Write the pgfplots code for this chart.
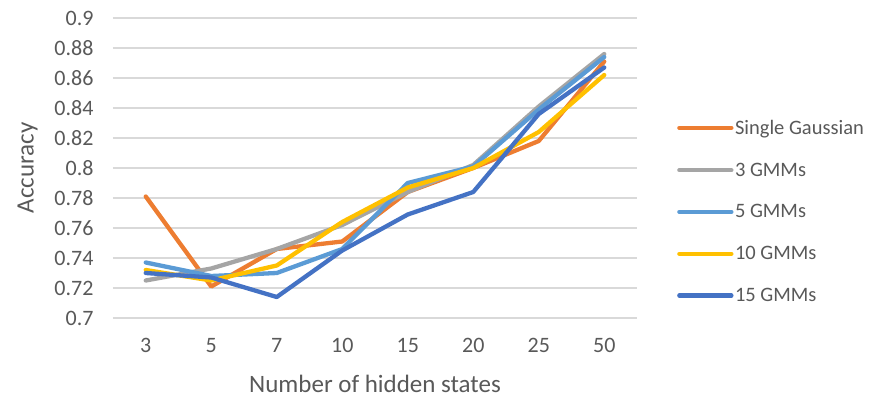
\documentclass[border=0pt]{standalone}
\usepackage{pgfplots}
\pgfplotsset{compat=1.18}
\usepackage{pgfplotstable}
\usepackage{fontspec}
\setmainfont{Carlito}

\definecolor{sgOrange}{HTML}{ED7D31}
\definecolor{gGray}{HTML}{A5A5A5}
\definecolor{gLight}{HTML}{5B9BD5}
\definecolor{gGold}{HTML}{FFC000}
\definecolor{gDark}{HTML}{4472C4}
\definecolor{txtGray}{HTML}{595959}
\definecolor{gridGray}{HTML}{D9D9D9}

% accuracy vs. number of hidden states (positions 0..7)
\pgfplotstableread{
x  sg     g3     g5     g10    g15
0  0.781  0.725  0.737  0.732  0.730
1  0.721  0.733  0.728  0.725  0.727
2  0.746  0.746  0.730  0.735  0.714
3  0.751  0.762  0.746  0.764  0.745
4  0.784  0.784  0.790  0.787  0.769
5  0.800  0.802  0.801  0.800  0.784
6  0.818  0.841  0.839  0.824  0.836
7  0.871  0.876  0.874  0.862  0.867
}\acc

\begin{document}
\begin{tikzpicture}
\useasboundingbox (-113pt,-81pt) rectangle (780pt,318pt);
\begin{axis}[
  scale only axis,
  width=524pt, height=300pt,
  xmin=-0.5, xmax=7.5,
  ymin=0.7, ymax=0.9,
  ytick={0.7,0.72,...,0.9},
  xtick=data,
  xticklabels={3,5,7,10,15,20,25,50},
  axis line style={draw=none},
  tick style={draw=none},
  ymajorgrids,
  major grid style={gridGray, line width=1.4pt},
  /pgf/number format/.cd, fixed, precision=2, assume math mode=true,
  /pgfplots/.cd,
  ticklabel style={font=\fontsize{22}{26}\selectfont, text=txtGray},
  yticklabel style={xshift=-16pt},
  xticklabel style={yshift=-17pt},
  xlabel={Number of hidden states},
  ylabel={Accuracy},
  label style={font=\fontsize{25}{30}\selectfont, text=txtGray},
  xlabel style={yshift=-15pt},
  ylabel style={yshift=10pt},
  every axis plot/.append style={line width=4.3pt, line join=round, line cap=round},
  legend style={
    at={(rel axis cs:1.0706,0.355)}, anchor=west,
    draw=none, fill=none,
    font=\fontsize{20.5}{24}\selectfont, text=txtGray,
    row sep=24pt,
    nodes={inner sep=1.5pt},
  },
  legend cell align=left,
  legend image code/.code={\draw[line width=4.3pt, line cap=round] (0pt,0pt) -- (52pt,0pt);},
]
\addplot[sgOrange] table[x=x, y=sg] {\acc};
\addlegendentry{Single Gaussian}
\addplot[gGray] table[x=x, y=g3] {\acc};
\addlegendentry{3 GMMs}
\addplot[gLight] table[x=x, y=g5] {\acc};
\addlegendentry{5 GMMs}
\addplot[gGold] table[x=x, y=g10] {\acc};
\addlegendentry{10 GMMs}
\addplot[gDark] table[x=x, y=g15] {\acc};
\addlegendentry{15 GMMs}
\end{axis}
\end{tikzpicture}
\end{document}
